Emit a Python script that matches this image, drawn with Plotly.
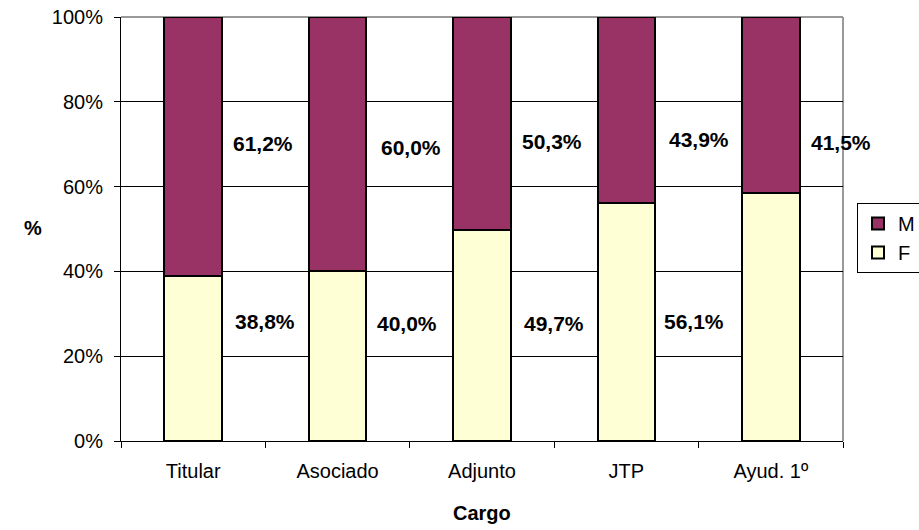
import plotly.graph_objects as go

categories = ["Titular", "Asociado", "Adjunto", "JTP", "Ayud. 1º"]
f_values = [38.8, 40.0, 49.7, 56.1, 58.5]
m_values = [61.2, 60.0, 50.3, 43.9, 41.5]
y_ticks = [0, 20, 40, 60, 80, 100]
y_tick_labels = ["0%", "20%", "40%", "60%", "80%", "100%"]

# label placement (layout detail): vertical position in % and horizontal offset in category units
m_label_y = [70.05, 69.3, 70.75, 71.0, 70.3]
f_label_y = [28.3, 27.8, 27.8, 28.3, 26.4]
m_label_dx = [0.485, 0.51, 0.485, 0.50, 0.485]
f_label_dx = [0.50, 0.48, 0.50, 0.465, 0.51]

FONT = "Liberation Sans, Arial, sans-serif"

fig = go.Figure()
fig.add_trace(go.Bar(x=categories, y=f_values, name="F",
                     marker=dict(color="#FFFFD5", line=dict(color="black", width=2)),
                     width=0.4))
fig.add_trace(go.Bar(x=categories, y=m_values, name="M",
                     marker=dict(color="#993366", line=dict(color="black", width=2)),
                     width=0.4))

def fmt(v):
    return f"{v:.1f}".replace(".", ",") + "%"

annotations = []
for i, c in enumerate(categories):
    annotations.append(dict(x=i + m_label_dx[i], y=m_label_y[i], xref="x", yref="y",
                            text=f"<b>{fmt(m_values[i])}</b>", showarrow=False,
                            font=dict(size=21, color="black", family=FONT)))
    annotations.append(dict(x=i + f_label_dx[i], y=f_label_y[i], xref="x", yref="y",
                            text=f"<b>{fmt(f_values[i])}</b>", showarrow=False,
                            font=dict(size=21, color="black", family=FONT)))
# y-axis title "%"
annotations.append(dict(x=33, y=228, xref="paper", yref="paper",
                        text="<b>%</b>", showarrow=False))
# x-axis title "Cargo"
annotations.append(dict(x=482, y=513, xref="paper", yref="paper",
                        text="<b>Cargo</b>", showarrow=False))

# convert pixel positions of the two axis titles into paper coords
L, R, T, B, W, H = 121, 76, 17, 89, 919, 530
pw, ph = W - L - R, H - T - B
for a in annotations[-2:]:
    a["x"] = (a["x"] - L) / pw
    a["y"] = (H - B - a["y"]) / ph
    a["xanchor"] = "center"
    a["yanchor"] = "middle"
    a["font"] = dict(size=20, color="black", family=FONT)

fig.update_layout(
    width=W, height=H,
    barmode="stack",
    plot_bgcolor="white", paper_bgcolor="white",
    margin=dict(l=L, r=R, t=T, b=B, autoexpand=False),
    font=dict(family=FONT, size=20, color="black"),
    showlegend=True,
    legend=dict(x=(857 - L) / pw, y=(H - B - 203) / ph, xanchor="left", yanchor="top",
                bgcolor="white", bordercolor="black", borderwidth=1,
                font=dict(size=20), traceorder="reversed"),
    annotations=annotations,
    shapes=[
        dict(type="line", xref="paper", yref="paper", x0=0, x1=1, y0=1, y1=1,
             line=dict(color="#999999", width=2), layer="below"),
        dict(type="line", xref="paper", yref="paper", x0=1, x1=1, y0=0, y1=1,
             line=dict(color="#999999", width=2), layer="below"),
    ],
)
fig.update_xaxes(showline=True, linecolor="black", linewidth=1, automargin=False,
                 ticks="outside", ticklen=6, tickcolor="black", tickson="boundaries",
                 ticklabelstandoff=12,
                 showgrid=False, range=[-0.5, 4.5])
fig.update_yaxes(range=[0, 100], tickvals=y_ticks, ticktext=y_tick_labels,
                 automargin=False, ticklabelstandoff=7,
                 showline=True, linecolor="black", linewidth=1,
                 ticks="outside", ticklen=6, tickcolor="black",
                 showgrid=True, gridcolor="black", gridwidth=1, zeroline=False)

fig.write_html("out.html", config={"displayModeBar": False},
               post_script="document.body.style.margin='0';document.body.style.overflow='hidden';")
